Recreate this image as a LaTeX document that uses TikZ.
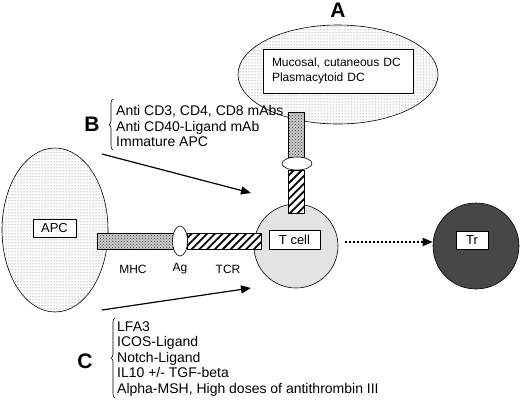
\documentclass[tikz,border=0pt]{standalone}
\usepackage{fontspec}
\setmainfont{Liberation Sans}
\usetikzlibrary{arrows.meta,patterns,patterns.meta,shapes.geometric,decorations.pathreplacing}
\begin{document}
\begin{tikzpicture}[x=1pt, y=-1pt, font=\fontsize{12}{15.4}\selectfont, line join=round, >={Triangle[length=10pt,width=8pt]}]
	\tikzset{
		dotcell/.style={draw, line width=.6pt, pattern=dots, pattern color=black!65},
		namebox/.style={draw, fill=white, line width=.7pt, inner sep=0pt},
		mhcbar/.style={draw, line width=.6pt, preaction={fill=gray!40}, pattern=crosshatch dots, pattern color=black!80},
		tcrbar/.style={draw, line width=.6pt, preaction={fill=white}, pattern={Lines[angle=45,distance=5.5pt,line width=1.8pt]}},
		bigletter/.style={font=\fontsize{21}{21}\selectfont\bfseries},
		curly/.style={decorate, decoration={brace, amplitude=4pt}, line width=.6pt},
		agent/.style={anchor=west, align=left, inner sep=1pt, font=\fontsize{14}{15.5}\selectfont}
	}
	\useasboundingbox (0,0) rectangle (520,402);
	% cells
	\node[dotcell, ellipse, minimum width=106pt, minimum height=164pt] (apc) at (55,230) {};
	\node[dotcell, ellipse, minimum width=200pt, minimum height=99pt] (dc) at (338,74.5) {};
	\node[draw, circle, fill=gray!22, line width=.6pt, minimum size=84pt] (tcell) at (296,246) {};
	\node[draw, circle, fill=black!72, line width=.6pt, minimum size=86pt] (treg) at (476,246) {};
	% MHC - Ag - TCR
	\draw[mhcbar] (97,233) rectangle (173,249);
	\draw[tcrbar] (187,233) rectangle (261,249);
	\draw[fill=white, line width=.6pt] (180,241) ellipse [x radius=7.5, y radius=15];
	\draw[mhcbar] (288,112) rectangle (304,157);
	\draw[tcrbar] (288,170) rectangle (304,213);
	\draw[fill=white, line width=.6pt] (297,163.5) ellipse [x radius=15, y radius=6.5];
	% boxes
	\node[namebox, font=\fontsize{13}{15}\selectfont, minimum width=43pt, minimum height=18pt] (apcbox) at (54.5,228) {APC};
	\node[namebox, font=\fontsize{13}{15}\selectfont, minimum width=51pt, minimum height=19pt] (tbox) at (294.5,239.5) {T cell};
	\node[namebox, font=\fontsize{13}{15}\selectfont, minimum width=32pt, minimum height=18pt] (trbox) at (472,240) {Tr};
	\node[namebox, minimum width=150pt, minimum height=44pt, text width=132pt, align=left, inner xsep=9pt] (dcbox) at (338,71) {Mucosal, cutaneous DC\\Plasmacytoid DC};
	\node (mhc) at (133,269) {MHC};
	\node (ag) at (180,269) {Ag};
	\node (tcr) at (228,269) {TCR};
	% A, B, C
	\node[bigletter] (la) at (338,10) {A};
	\node[bigletter] (lb) at (92,124) {B};
	\node[bigletter] (lc) at (85,361) {C};
	\draw[curly] (113,150) -- (113,99);
	\node[agent] (bagents) at (115,126) {Anti CD3, CD4, CD8 mAbs\\Anti CD40-Ligand mAb\\Immature APC};
	\draw[curly] (115,398) -- (115,318);
	\node[agent] (cagents) at (116,359) {LFA3\\ICOS-Ligand\\Notch-Ligand\\IL10 +/- TGF-beta\\Alpha-MSH, High doses of antithrombin III};
	% arrows
	\coordinate (b0) at (102,154); \coordinate (b1) at (251,193);
	\coordinate (c0) at (102,310); \coordinate (c1) at (251,288);
	\draw[->, line width=1.2pt] (b0) -- (b1);
	\draw[->, line width=1.2pt] (c0) -- (c1);
	\draw[->, line width=2pt, dotted, shorten <=7pt] ([yshift=4pt]tcell.east) -- ([yshift=4pt]treg.west);
\end{tikzpicture}
\end{document}
